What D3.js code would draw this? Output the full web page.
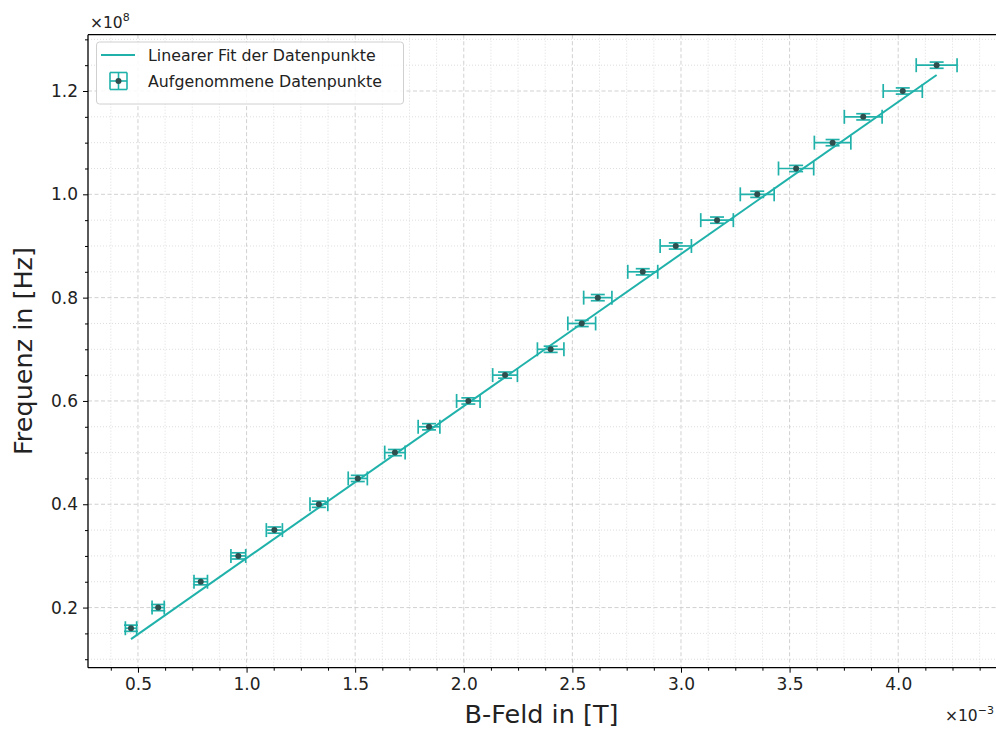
<!DOCTYPE html>
<html>
<head>
<meta charset="utf-8">
<script src="https://cdn.jsdelivr.net/npm/d3@7"></script>
<style>
  html, body { margin: 0; padding: 0; background: #fff; }
  svg { display: block; font-family: "DejaVu Sans", sans-serif; }
</style>
</head>
<body>
<div id="chart"></div>
<script>
// Measured data: B-field in mT, frequency in MHz
const bField = [0.468, 0.593, 0.789, 0.962, 1.128, 1.333, 1.512, 1.683, 1.840, 2.021, 2.190, 2.400,
                2.543, 2.617, 2.824, 2.976, 3.166, 3.351, 3.530, 3.698, 3.839, 4.021, 4.177];
const freq = [16, 20, 25, 30, 35, 40, 45, 50, 55, 60, 65, 70, 75, 80, 85, 90, 95, 100, 105, 110, 115, 120, 125];
const bErr = [0.026, 0.028, 0.031, 0.034, 0.037, 0.041, 0.044, 0.047, 0.050, 0.054, 0.057, 0.061,
              0.064, 0.065, 0.069, 0.072, 0.075, 0.078, 0.081, 0.084, 0.087, 0.090, 0.094];
const fErr = [0.6, 0.6, 0.6, 0.6, 0.6, 0.6, 0.6, 0.6, 0.6, 0.6, 0.6, 0.6,
              0.6, 0.6, 0.6, 0.6, 0.6, 0.6, 0.6, 0.6, 0.6, 0.6, 0.6];
// Fit line end points
const fitB = [0.468, 4.177];
const fitF = [13.9, 123.1];

const xMajor = [0.5, 1.0, 1.5, 2.0, 2.5, 3.0, 3.5, 4.0];
const yMajor = [20, 40, 60, 80, 100, 120];

const width = 996, height = 729;
const mLeft = 88, mBottom = 667.7, mTop = 34.7, mRight = 1006.8;

const teal = '#20b2aa';
const dark = '#2f4f4f';

const x = d3.scaleLinear().domain([0.27, 4.5]).range([mLeft, mRight]);
const y = d3.scaleLinear().domain([8.36, 130.9]).range([mBottom, mTop]);

const xMinor = d3.range(0.375, 4.5, 0.125).filter(v => Math.abs(v * 2 - Math.round(v * 2)) > 1e-6);
const yMinor = d3.range(10, 131, 5).filter(v => v % 20 !== 0);

const svg = d3.select('#chart').append('svg')
    .attr('width', width)
    .attr('height', height);

// grid
const grid = svg.append('g');
grid.selectAll('.gxm').data(xMinor).enter().append('line')
    .attr('x1', d => x(d)).attr('x2', d => x(d))
    .attr('y1', mTop).attr('y2', mBottom)
    .attr('stroke', '#d6d6d6').attr('stroke-width', 0.8).attr('stroke-dasharray', '1,2');
grid.selectAll('.gym').data(yMinor).enter().append('line')
    .attr('x1', mLeft).attr('x2', mRight)
    .attr('y1', d => y(d)).attr('y2', d => y(d))
    .attr('stroke', '#d6d6d6').attr('stroke-width', 0.8).attr('stroke-dasharray', '1,2');
grid.selectAll('.gx').data(xMajor).enter().append('line')
    .attr('x1', d => x(d)).attr('x2', d => x(d))
    .attr('y1', mTop).attr('y2', mBottom)
    .attr('stroke', '#cccccc').attr('stroke-width', 0.9).attr('stroke-dasharray', '4,2.5');
grid.selectAll('.gy').data(yMajor).enter().append('line')
    .attr('x1', mLeft).attr('x2', mRight)
    .attr('y1', d => y(d)).attr('y2', d => y(d))
    .attr('stroke', '#cccccc').attr('stroke-width', 0.9).attr('stroke-dasharray', '4,2.5');

// axes
const xAxis = d3.axisBottom(x).tickValues(xMajor).tickFormat(d3.format('.1f')).tickSize(5).tickPadding(5);
const xAxisMinor = d3.axisBottom(x).tickValues(xMinor).tickFormat('').tickSize(3);
const yAxis = d3.axisLeft(y).tickValues(yMajor).tickFormat(d => (d / 100).toFixed(1)).tickSize(5).tickPadding(5);
const yAxisMinor = d3.axisLeft(y).tickValues(yMinor).tickFormat('').tickSize(3);

function styleAxis(g) {
    g.select('.domain').remove();
    g.selectAll('.tick line').attr('stroke', '#000').attr('stroke-width', 1);
    g.selectAll('.tick text').attr('fill', '#222').style('font-size', '17px')
        .style('font-family', '"DejaVu Sans", sans-serif');
}

svg.append('g').attr('transform', `translate(0,${mBottom})`).call(xAxis).call(styleAxis);
svg.append('g').attr('transform', `translate(0,${mBottom})`).call(xAxisMinor).call(styleAxis);
svg.append('g').attr('transform', `translate(${mLeft},0)`).call(yAxis).call(styleAxis);
svg.append('g').attr('transform', `translate(${mLeft},0)`).call(yAxisMinor).call(styleAxis);

// fit line
svg.append('path')
    .datum(fitB.map((b, i) => [b, fitF[i]]))
    .attr('d', d3.line().x(d => x(d[0])).y(d => y(d[1])))
    .attr('fill', 'none')
    .attr('stroke', teal)
    .attr('stroke-width', 2);

// error bars
const data = bField.map((b, i) => ({ b, f: freq[i], be: bErr[i], fe: fErr[i] }));
const cap = 7;
const eb = svg.append('g').attr('stroke', teal).attr('stroke-width', 1.7).attr('fill', 'none');
data.forEach(d => {
    const cx = x(d.b), cy = y(d.f);
    const x0 = x(d.b - d.be), x1 = x(d.b + d.be);
    const y0 = y(d.f - d.fe), y1 = y(d.f + d.fe);
    eb.append('line').attr('x1', x0).attr('x2', x1).attr('y1', cy).attr('y2', cy);
    eb.append('line').attr('x1', x0).attr('x2', x0).attr('y1', cy - cap).attr('y2', cy + cap);
    eb.append('line').attr('x1', x1).attr('x2', x1).attr('y1', cy - cap).attr('y2', cy + cap);
    eb.append('line').attr('x1', cx).attr('x2', cx).attr('y1', y0).attr('y2', y1);
    eb.append('line').attr('x1', cx - cap).attr('x2', cx + cap).attr('y1', y0).attr('y2', y0);
    eb.append('line').attr('x1', cx - cap).attr('x2', cx + cap).attr('y1', y1).attr('y2', y1);
});
svg.selectAll('.pt').data(data).enter().append('circle')
    .attr('cx', d => x(d.b)).attr('cy', d => y(d.f)).attr('r', 3)
    .attr('fill', dark);

// spines (right spine lies outside the cropped view)
svg.append('line').attr('x1', mLeft).attr('x2', mLeft).attr('y1', mTop).attr('y2', mBottom)
    .attr('stroke', '#000').attr('stroke-width', 1.3);
svg.append('line').attr('x1', mLeft).attr('x2', width).attr('y1', mBottom).attr('y2', mBottom)
    .attr('stroke', '#000').attr('stroke-width', 1.3);
svg.append('line').attr('x1', mLeft).attr('x2', width).attr('y1', mTop).attr('y2', mTop)
    .attr('stroke', '#000').attr('stroke-width', 1.3);

// offset texts
const off8 = svg.append('text').attr('x', 90).attr('y', 28).attr('fill', '#222').style('font-size', '15.5px');
off8.append('tspan').text('×10');
off8.append('tspan').attr('dy', -7).style('font-size', '11px').text('8');
const off3 = svg.append('text').attr('x', 945).attr('y', 721).attr('fill', '#222').style('font-size', '15.5px');
off3.append('tspan').text('×10');
off3.append('tspan').attr('dy', -7).style('font-size', '11px').text('−3');

// axis labels
svg.append('text').attr('x', 541.5).attr('y', 722.5)
    .attr('text-anchor', 'middle').attr('fill', '#222').style('font-size', '25.5px')
    .text('B-Feld in [T]');
svg.append('text').attr('transform', `translate(32,351) rotate(-90)`)
    .attr('text-anchor', 'middle').attr('fill', '#222').style('font-size', '25.5px')
    .text('Frequenz in [Hz]');

// legend
const lg = svg.append('g');
lg.append('rect').attr('x', 96.5).attr('y', 42).attr('width', 307).attr('height', 62).attr('rx', 3)
    .attr('fill', '#fff').attr('fill-opacity', 0.85).attr('stroke', '#d0d0d0');
lg.append('line').attr('x1', 101).attr('x2', 135).attr('y1', 55).attr('y2', 55)
    .attr('stroke', teal).attr('stroke-width', 2);
const lx = 118.5, ly = 81, lr = 8.5;
const li = lg.append('g').attr('stroke', teal).attr('stroke-width', 1.6);
li.append('line').attr('x1', lx - lr).attr('x2', lx + lr).attr('y1', ly).attr('y2', ly);
li.append('line').attr('x1', lx).attr('x2', lx).attr('y1', ly - lr).attr('y2', ly + lr);
li.append('line').attr('x1', lx - lr).attr('x2', lx - lr).attr('y1', ly - lr).attr('y2', ly + lr);
li.append('line').attr('x1', lx + lr).attr('x2', lx + lr).attr('y1', ly - lr).attr('y2', ly + lr);
li.append('line').attr('x1', lx - lr).attr('x2', lx + lr).attr('y1', ly - lr).attr('y2', ly - lr);
li.append('line').attr('x1', lx - lr).attr('x2', lx + lr).attr('y1', ly + lr).attr('y2', ly + lr);
lg.append('circle').attr('cx', lx).attr('cy', ly).attr('r', 3).attr('fill', dark);
lg.append('text').attr('x', 148).attr('y', 61).attr('fill', '#222').style('font-size', '15.8px')
    .text('Linearer Fit der Datenpunkte');
lg.append('text').attr('x', 148).attr('y', 87).attr('fill', '#222').style('font-size', '15.8px')
    .text('Aufgenommene Datenpunkte');
</script>
</body>
</html>
